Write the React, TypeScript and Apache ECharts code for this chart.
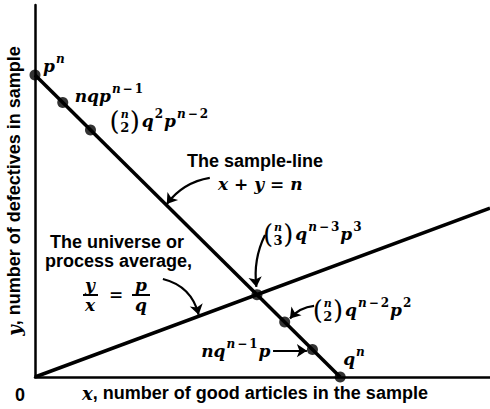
import React, { useEffect, useRef } from "react";
import * as echarts from "echarts";

// Sample of n articles: x good, y defective, x + y = n
const SAMPLE_N = 11;
const X_MAX = 16.4;
const Y_MAX = 13.55;

// Marked points on the sample-line (good, defective)
const markedGood = [0, 1, 2, 8, 9, 10, 11];
const markedDefective = [11, 10, 9, 3, 2, 1, 0];

// Probability labels attached to the marked points
const pointLabels = [
  "p^{n}",
  "nqp^{n−1}",
  "\\b{n}{2}q^{2}p^{n−2}",
  "\\b{n}{3}q^{n−3}p^{3}",
  "\\b{n}{2}q^{n−2}p^{2}",
  "nq^{n−1}p",
  "q^{n}",
];

// Sample-line end points and the universe line y/x = p/q (p/q = 3/8)
const sampleLine = [
  [0, SAMPLE_N],
  [SAMPLE_N, 0],
];
const universeLine = [
  [0, 0],
  [16.4, 6.15],
];

// Pointer arrows (data coordinates, from -> to)
const arrowPaths = [
  [[6.3, 7.25], [4.75, 6.3]],
  [[8.29, 5.17], [7.98, 3.28]],
  [[4.61, 3.57], [5.9, 2.27]],
  [[10.06, 2.59], [9.19, 2.13]],
  [[8.58, 0.96], [9.8, 0.96]],
];
const arrowBend = [-0.2, -0.15, 0.3, -0.2, 0];

// Texts
const xTitle = "{i|x}, number of good articles in the sample";
const yTitle = "{i|y}, number of defectives in sample";
const originLabel = "0";
const sampleLineTitle = "The sample-line";
const sampleLineEq = "x + y = n";
const universeTitle = ["The universe or", "process average,"];

// Label placement relative to each marked point (pixels)
const labelLayout = [
  { dx: 8, dy: -9, align: "left" },
  { dx: 12, dy: -6, align: "left" },
  { dx: 19, dy: -9, align: "left" },
  { dx: 6, dy: -61, align: "left" },
  { dx: 28, dy: -12, align: "left" },
  { dx: -42, dy: 1, align: "right" },
  { dx: 3, dy: -18, align: "left" },
];

const SERIF = '"DejaVu Serif", serif';
const SANS = '"Liberation Sans", Arial, sans-serif';
const BASE = 17;
const SUP = 12;
const SUP_RAISE = 7;
const PAREN = 26;

type Piece =
  | { kind: "base" | "sup"; text: string }
  | { kind: "binom"; top: string; bottom: string };

function parseMath(src: string): Piece[] {
  const out: Piece[] = [];
  let i = 0;
  while (i < src.length) {
    if (src.startsWith("\\b{", i)) {
      const e1 = src.indexOf("}", i);
      const top = src.slice(i + 3, e1);
      const e2 = src.indexOf("}", e1 + 2);
      out.push({ kind: "binom", top, bottom: src.slice(e1 + 2, e2) });
      i = e2 + 1;
    } else if (src.startsWith("^{", i)) {
      const e = src.indexOf("}", i);
      out.push({ kind: "sup", text: src.slice(i + 2, e) });
      i = e + 1;
    } else {
      out.push({ kind: "base", text: src[i] });
      i++;
    }
  }
  return out;
}

let measureCtx: CanvasRenderingContext2D | null = null;
function textWidth(ch: string, size: number, italic: boolean, weight = "bold") {
  if (!measureCtx) measureCtx = document.createElement("canvas").getContext("2d");
  measureCtx!.font = `${italic ? "italic " : ""}${weight} ${size}px ${SERIF}`;
  return measureCtx!.measureText(ch).width;
}

function glyph(
  ch: string,
  x: number,
  y: number,
  size: number,
  italic: boolean,
  align = "left",
  weight = "bold"
) {
  return {
    type: "text",
    x,
    y,
    silent: true,
    style: {
      text: ch,
      fontFamily: SERIF,
      fontSize: size,
      fontStyle: italic ? "italic" : "normal",
      fontWeight: weight,
      fill: "#000",
      align,
      verticalAlign: "middle",
    },
  };
}

// Lays out a small formula with superscripts and binomial coefficients.
function mathGroup(src: string, x0: number, y0: number, align: string) {
  const pieces = parseMath(src);
  const els: any[] = [];
  let x = 0;
  for (const p of pieces) {
    if (p.kind === "binom") {
      const pw = textWidth("(", PAREN, false, "normal");
      els.push(glyph("(", x, 0, PAREN, false, "left", "normal"));
      x += pw;
      const wt = textWidth(p.top, 11, true);
      const wb = textWidth(p.bottom, 13, false);
      const cw = Math.max(wt, wb) + 1;
      els.push(glyph(p.top, x + cw / 2, -6.5, 11, true, "center"));
      els.push(glyph(p.bottom, x + cw / 2, 6.5, 13, false, "center"));
      x += cw;
      els.push(glyph(")", x, 0, PAREN, false, "left", "normal"));
      x += pw + 2;
    } else {
      const size = p.kind === "base" ? BASE : SUP;
      const dy = p.kind === "base" ? 0 : -SUP_RAISE;
      if (p.kind === "sup") x += 1;
      for (const ch of p.text) {
        const italic = /[a-z]/.test(ch);
        const pad = ch === "−" && p.kind === "sup" ? 2 : 0;
        x += pad;
        els.push(glyph(ch, x, dy, size, italic));
        x += textWidth(ch, size, italic) + pad;
      }
      if (p.kind === "sup") x += 1;
    }
  }
  const shift = align === "right" ? -x : 0;
  return { type: "group", x: x0 + shift, y: y0, children: els };
}

function buildOption() {
  const markedPoints = markedGood.map((g, i) => [g, markedDefective[i]]);
  const nameStyle = {
    fontFamily: SANS,
    fontWeight: "bold",
    fontSize: 18,
    color: "#000",
    rich: {
      i: { fontFamily: SERIF, fontStyle: "italic", fontWeight: "bold", fontSize: 18, color: "#000" },
    },
  };
  const axisBase = {
    type: "value",
    min: 0,
    axisLine: { show: true, onZero: false, lineStyle: { color: "#000", width: 2.5 } },
    axisTick: { show: false },
    axisLabel: { show: false },
    splitLine: { show: false },
    nameLocation: "middle",
  };

  const words = (text: string, x: number, y: number) => ({
    type: "text",
    x,
    y,
    silent: true,
    style: {
      text,
      fontFamily: SANS,
      fontWeight: "bold",
      fontSize: 18,
      fill: "#000",
      align: "left",
      verticalAlign: "top",
    },
  });

  const fracBar = (x1: number, x2: number, y: number) => ({
    type: "line",
    silent: true,
    shape: { x1, y1: y, x2, y2: y },
    style: { stroke: "#000", lineWidth: 2 },
  });

  return {
    animation: false,
    backgroundColor: "#fff",
    grid: { left: 35, right: 0, top: 5, bottom: 32, containLabel: false, outerBoundsMode: "none" },
    xAxis: {
      ...axisBase,
      max: X_MAX,
      name: xTitle,
      nameGap: 7,
      nameTextStyle: { ...nameStyle, padding: [0, 15, 0, 0] },
    },
    yAxis: {
      ...axisBase,
      max: Y_MAX,
      name: yTitle,
      nameRotate: 90,
      nameGap: 12,
      nameTextStyle: nameStyle,
    },
    series: [
      {
        type: "line",
        data: sampleLine,
        symbol: "none",
        lineStyle: { color: "#000", width: 3.5 },
        z: 2,
      },
      {
        type: "line",
        data: universeLine,
        symbol: "none",
        lineStyle: { color: "#000", width: 3.5 },
        z: 2,
      },
      {
        type: "lines",
        coordinateSystem: "cartesian2d",
        symbol: ["none", "arrow"],
        symbolSize: 10,
        lineStyle: { color: "#000", width: 2.2, opacity: 1 },
        data: arrowPaths.map((c, i) => ({ coords: c, lineStyle: { curveness: arrowBend[i] } })),
        z: 3,
      },
      {
        type: "scatter",
        data: markedPoints,
        symbol: "circle",
        symbolSize: 11,
        itemStyle: { color: "#000" },
        z: 4,
      },
      {
        type: "custom",
        data: markedPoints,
        silent: true,
        z: 5,
        renderItem: (params: any, api: any) => {
          const i = params.dataIndex;
          const pt = api.coord([api.value(0), api.value(1)]);
          const lay = labelLayout[i];
          return mathGroup(pointLabels[i], pt[0] + lay.dx, pt[1] + lay.dy, lay.align);
        },
      },
    ],
    graphic: [
      words(originLabel, 15, 386),
      words(sampleLineTitle, 187, 152),
      mathGroup(sampleLineEq, 218, 184, "left"),
      words(universeTitle[0], 50, 233),
      words(universeTitle[1], 45, 252),
      // y / x = p / q
      glyph("y", 90, 285, BASE, true, "center"),
      fracBar(83, 98, 295),
      glyph("x", 90, 305, BASE, true, "center"),
      glyph("=", 116, 294, BASE, false, "center"),
      glyph("p", 141, 285, BASE, true, "center"),
      fracBar(132, 150, 295),
      glyph("q", 141, 305, BASE, true, "center"),
    ],
  };
}

export default function App() {
  const ref = useRef<HTMLDivElement>(null);
  useEffect(() => {
    document.body.style.margin = "0";
    const chart = echarts.init(ref.current!, undefined, { renderer: "svg" });
    chart.setOption(buildOption() as any);
    return () => chart.dispose();
  }, []);
  return <div ref={ref} style={{ width: 490, height: 409, background: "#fff" }} />;
}
